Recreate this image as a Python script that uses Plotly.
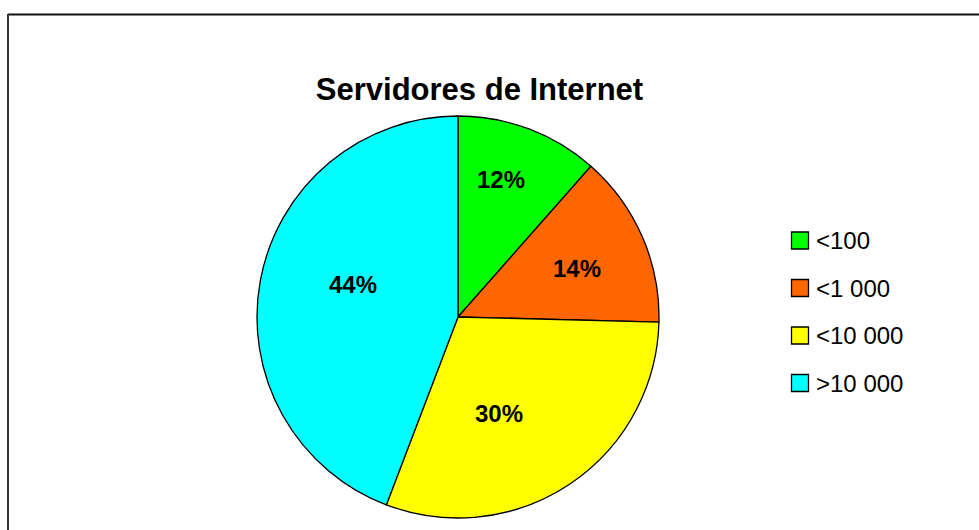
import math
import plotly.graph_objects as go

# Share of Internet servers by size class (percent)
categories = ["<100", "<1 000", "<10 000", ">10 000"]
shares = [11.5, 13.9, 30.4, 44.2]
colors = ["#00FF00", "#FF6600", "#FFFF00", "#00FFFF"]
title_text = "Servidores de Internet"

W, H = 979, 530
FONT = "Liberation Sans, Arial, sans-serif"

# Pie geometry (pixels)
PIE_LEFT, PIE_RIGHT, PIE_TOP, PIE_BOTTOM = 257, 659, 116, 518
CX = (PIE_LEFT + PIE_RIGHT) / 2
CY = (PIE_TOP + PIE_BOTTOM) / 2
R = (PIE_RIGHT - PIE_LEFT) / 2

# Label placement along each slice's bisector: radial fraction and pixel nudge
label_radius = [0.717, 0.641, 0.510, 0.542]
label_nudge = [(-8, -3), (1, 3), (-16, 11), (2, -13)]

fig = go.Figure()

fig.add_trace(go.Pie(
    labels=categories,
    values=shares,
    sort=False,
    direction="clockwise",
    rotation=0,
    marker=dict(colors=colors, line=dict(color="#000000", width=1.3)),
    textinfo="none",
    hoverinfo="label+percent",
    showlegend=False,
    domain=dict(x=[PIE_LEFT / W, PIE_RIGHT / W], y=[1 - PIE_BOTTOM / H, 1 - PIE_TOP / H]),
))

shapes = []
annotations = []

# Percentage labels inside the slices
total = sum(shares)
cum = 0
for val, rf, (nx, ny) in zip(shares, label_radius, label_nudge):
    mid = (cum + val / 2) / total * 2 * math.pi
    cum += val
    px = CX + rf * R * math.sin(mid) + nx
    py = CY - rf * R * math.cos(mid) + ny
    annotations.append(dict(
        text="<b>%d%%</b>" % round(100 * val / total),
        xref="paper", yref="paper", x=px / W, y=1 - py / H,
        xanchor="center", yanchor="middle", showarrow=False,
        font=dict(family=FONT, size=24, color="#000000"),
    ))

# Legend: swatch + label per category
y0, step = 240.5, 47.5
for i, (cat, col) in enumerate(zip(categories, colors)):
    yc = y0 + i * step
    shapes.append(dict(
        type="rect", xref="paper", yref="paper",
        x0=791.5 / W, x1=808.5 / W,
        y0=1 - (yc + 8.5) / H, y1=1 - (yc - 8.5) / H,
        fillcolor=col, line=dict(color="#000000", width=1.3),
    ))
    annotations.append(dict(
        text=cat, xref="paper", yref="paper",
        x=814 / W, y=1 - yc / H, xanchor="left", yanchor="middle",
        showarrow=False, font=dict(family=FONT, size=24, color="#000000"),
    ))

# Chart frame (top and left edges)
shapes.append(dict(type="line", xref="paper", yref="paper",
                   x0=8 / W, x1=1.0, y0=1 - 14.5 / H, y1=1 - 14.5 / H,
                   line=dict(color="#111111", width=2)))
shapes.append(dict(type="line", xref="paper", yref="paper",
                   x0=8 / W, x1=8 / W, y0=1 - 14 / H, y1=0,
                   line=dict(color="#333333", width=2)))

fig.update_layout(
    width=W, height=H,
    margin=dict(l=0, r=0, t=0, b=0),
    paper_bgcolor="#FFFFFF",
    plot_bgcolor="#FFFFFF",
    title=dict(text="<b>" + title_text + "</b>", x=479.5 / W, xanchor="center",
               y=1 - 89 / H, yanchor="middle",
               font=dict(family=FONT, size=31, color="#000000")),
    shapes=shapes,
    annotations=annotations,
)

fig.write_html("out.html")
